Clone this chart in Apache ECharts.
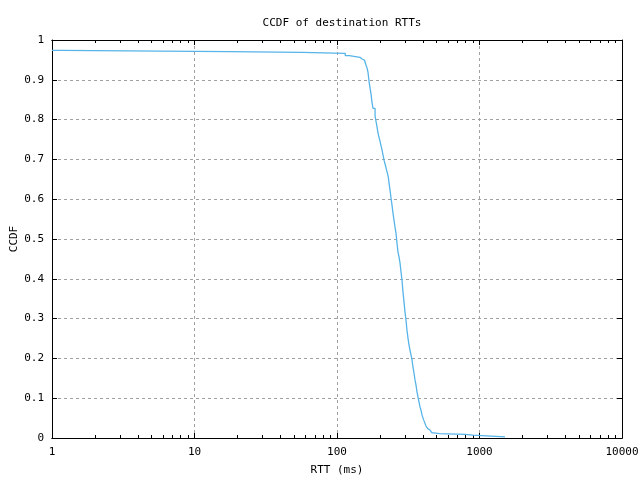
<!DOCTYPE html>
<html>
<head>
<meta charset="utf-8">
<script src="https://cdn.jsdelivr.net/npm/echarts@6/dist/echarts.min.js"></script>
<style>html,body{margin:0;padding:0;background:#fff}#c{width:640px;height:480px}</style>
</head>
<body>
<div id="c"></div>
<script>
// RTT (ms) at which each CCDF step begins
const rtt = [1, 1.15, 17.5, 56.8, 114.3, 122, 145, 150, 156, 159, 162.4, 165, 168, 170.6, 173.4, 176, 179, 185, 190, 193, 196, 200.4, 203.7, 207, 210.4, 213.8, 218.3, 221.8, 225.4, 229, 232.8, 236.6, 239.3, 243.2, 247.2, 251, 255.3, 259.4, 263.6, 268, 272.4, 276.8, 281.3, 285.8, 290.4, 295.2, 300, 304.9, 309.8, 314.9, 320, 325.3, 330.6, 336, 341.5, 347, 352.7, 358.5, 364.3, 370.3, 376.3, 382.4, 388.6, 395, 401.4, 408, 414.6, 421.3, 428.2, 435, 442, 449.3, 456.6, 464, 479.3, 522, 794, 896, 1510];
const ccdf = [0.974, 0.9706, 0.969, 0.9666, 0.9606, 0.9565, 0.9523, 0.949, 0.947, 0.939, 0.930, 0.919, 0.895, 0.879, 0.864, 0.843, 0.828, 0.809, 0.786, 0.771, 0.759, 0.746, 0.734, 0.724, 0.711, 0.698, 0.686, 0.676, 0.666, 0.656, 0.636, 0.618, 0.603, 0.585, 0.565, 0.548, 0.530, 0.515, 0.490, 0.467, 0.455, 0.440, 0.417, 0.397, 0.367, 0.342, 0.317, 0.296, 0.271, 0.251, 0.234, 0.221, 0.209, 0.196, 0.178, 0.163, 0.146, 0.133, 0.116, 0.103, 0.090, 0.078, 0.070, 0.058, 0.050, 0.043, 0.038, 0.030, 0.026, 0.023, 0.020, 0.018, 0.015, 0.013, 0.011, 0.009, 0.007, 0.003, 0.003];
const xMajorTicks = [1, 10, 100, 1000, 10000];
const xMinorTicks = [];
[1, 10, 100, 1000].forEach(d => { for (let k = 2; k <= 9; k++) xMinorTicks.push(d * k); });

const FONT = 'DejaVu Sans Mono';
const txt = {color: '#000', fontFamily: FONT, fontSize: 11};
const data = rtt.map((v, i) => [v, ccdf[i]]);

function xAx(pos, opts) {
  return Object.assign({
    type: 'log', logBase: 10, min: 1, max: 10000, position: pos, gridIndex: 0,
    axisLine: {show: true, onZero: false, lineStyle: {color: '#000', width: 1}},
    axisLabel: {show: false},
    splitLine: {show: false},
    axisTick: {show: true, inside: true, length: 5, lineStyle: {color: '#000'}}
  }, opts);
}

const chart = echarts.init(document.getElementById('c'), null, {renderer: 'canvas'});
chart.setOption({
  animation: false,
  backgroundColor: '#fff',
  title: {text: 'CCDF of destination RTTs', left: 337, textAlign: 'center', top: 13,
    textStyle: {color: '#000', fontFamily: FONT, fontSize: 11, fontWeight: 'normal'}},
  graphic: [{
    type: 'text', x: 14, y: 239, rotation: Math.PI / 2,
    style: {text: 'CCDF', fill: '#000', font: '11px "DejaVu Sans Mono"', align: 'center', verticalAlign: 'middle'}
  }],
  grid: {left: 52, right: 18, top: 40, bottom: 42, containLabel: false, outerBoundsMode: 'none'},
  xAxis: [
    xAx('bottom', {
      name: 'RTT (ms)', nameLocation: 'middle', nameGap: 27, nameMoveOverlap: false, nameTextStyle: txt,
      axisLabel: {show: true, margin: 9, ...txt, formatter: v => String(Math.round(v))},
      axisTick: {show: true, inside: true, length: 5, customValues: xMajorTicks, lineStyle: {color: '#000'}},
      splitLine: {show: true, lineStyle: {color: '#a0a0a0', type: [3, 3], width: 1}}
    }),
    xAx('top', {axisTick: {show: true, inside: true, length: 5, customValues: xMajorTicks, lineStyle: {color: '#000'}}}),
    xAx('bottom', {axisTick: {show: true, inside: true, length: 3, customValues: xMinorTicks, lineStyle: {color: '#000'}}}),
    xAx('top', {axisTick: {show: true, inside: true, length: 3, customValues: xMinorTicks, lineStyle: {color: '#000'}}})
  ],
  yAxis: [
    {type: 'value', min: 0, max: 1, interval: 0.1, position: 'left',
      axisLine: {show: true, onZero: false, lineStyle: {color: '#000'}},
      axisTick: {show: true, inside: true, length: 5, lineStyle: {color: '#000'}},
      axisLabel: {show: true, margin: 8, ...txt, formatter: v => String(Math.round(v * 10) / 10)},
      splitLine: {show: true, lineStyle: {color: '#a0a0a0', type: [3, 3], width: 1}}},
    {type: 'value', min: 0, max: 1, interval: 0.1, position: 'right',
      axisLine: {show: true, onZero: false, lineStyle: {color: '#000'}},
      axisTick: {show: true, inside: true, length: 5, lineStyle: {color: '#000'}},
      axisLabel: {show: false}, splitLine: {show: false}}
  ],
  series: [{
    type: 'line', xAxisIndex: 0, yAxisIndex: 0, data: data, step: 'end',
    showSymbol: false, symbol: 'none',
    lineStyle: {color: '#56b4e9', width: 1.3}, z: 5
  }]
});
</script>
</body>
</html>
